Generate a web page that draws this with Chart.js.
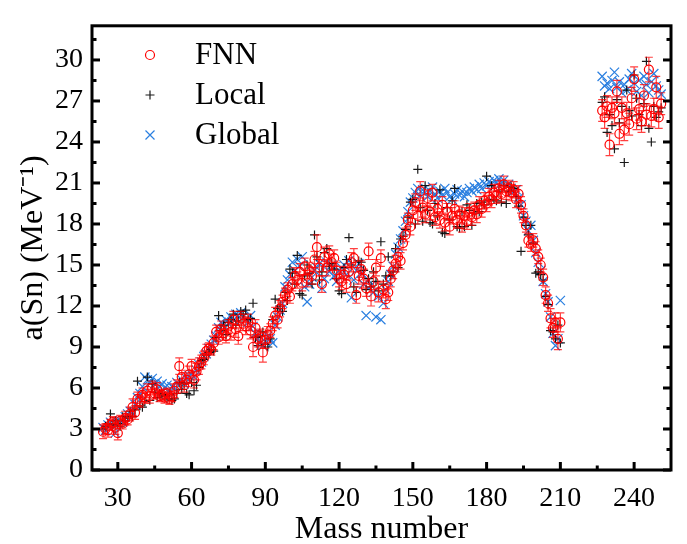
<!DOCTYPE html>
<html>
<head>
<meta charset="utf-8">
<script src="https://cdn.jsdelivr.net/npm/chart.js@4.4.0/dist/chart.umd.min.js"></script>
<style>
  html, body { margin: 0; padding: 0; background: #fff; }
  #wrap { width: 687px; height: 544px; }
</style>
</head>
<body>
<div id="wrap"><canvas id="grafico" width="687" height="544"></canvas></div>
<script>
// ======= DATA =======
const massNumbers = [
  24, 25, 26, 27, 28, 29, 30, 31, 32, 33,
  34, 35, 36, 37, 38, 39, 40, 41, 42, 43,
  44, 45, 46, 47, 48, 49, 50, 51, 52, 53,
  54, 55, 56, 57, 58, 59, 60, 61, 62, 63,
  64, 65, 66, 67, 68, 69, 70, 71, 72, 73,
  74, 75, 76, 77, 78, 79, 80, 81, 82, 83,
  84, 85, 86, 87, 88, 89, 90, 91, 92, 93,
  94, 95, 96, 97, 98, 99, 100, 101, 102, 103,
  104, 105, 106, 107, 108, 109, 110, 111, 112, 113,
  114, 115, 116, 117, 118, 119, 120, 121, 122, 123,
  124, 125, 126, 127, 128, 129, 130, 131, 132, 133,
  134, 135, 136, 137, 138, 139, 140, 141, 142, 143,
  144, 145, 146, 147, 148, 149, 150, 151, 152, 153,
  154, 155, 156, 157, 158, 159, 160, 161, 162, 163,
  164, 165, 166, 167, 168, 169, 170, 171, 172, 173,
  174, 175, 176, 177, 178, 179, 180, 181, 182, 183,
  184, 185, 186, 187, 188, 189, 190, 191, 192, 193,
  194, 195, 196, 197, 198, 199, 200, 201, 202, 203,
  204, 205, 206, 207, 208, 209, 210,
  227, 228, 229, 230, 231, 232, 233, 234, 235, 236,
  237, 238, 239, 240, 241, 242, 243, 244, 245, 246,
  247, 248, 249, 250, 251
];

const fnnValues = [
  2.8, 3.0, 2.9, 3.3, 3.5, 3.1, 2.7, 3.6, 3.4, 3.8,
  3.7, 4.1, 4.6, 4.2, 5.2, 5.0, 5.5, 5.3, 5.8, 5.4,
  6.0, 5.6, 5.9, 5.4, 5.5, 5.3, 5.6, 5.2, 5.4, 5.8,
  6.1, 7.6, 6.8, 6.2, 6.6, 7.0, 7.6, 6.6, 7.2, 7.6,
  7.9, 8.2, 8.7, 8.9, 8.8, 9.3, 10.1, 9.7, 10.3, 10.0,
  9.8, 10.5, 10.1, 11.0, 10.3, 9.8, 11.1, 10.7, 10.5, 10.8,
  10.2, 9.0, 10.4, 9.6, 9.7, 8.6, 9.5, 9.9, 10.2, 10.7,
  11.3, 11.0, 11.8, 12.3, 12.8, 13.2, 12.7, 13.6, 14.2, 13.9,
  14.5, 13.7, 14.9, 14.0, 14.6, 14.2, 15.4, 16.3, 14.8, 13.6,
  15.6, 14.8, 15.8, 15.2, 15.5, 14.6, 14.0, 13.8, 14.3, 13.6,
  14.5, 15.2, 15.5, 12.8, 14.2, 14.7, 14.0, 13.3, 16.0, 12.7,
  13.8, 14.8, 13.0, 15.5, 13.2, 12.5, 13.0, 14.0, 14.6, 15.1,
  15.6, 15.3, 16.6, 17.2, 18.3, 17.8, 19.0, 19.6, 18.6, 20.4,
  19.2, 18.7, 19.9, 18.9, 20.3, 18.5, 19.1, 18.3, 19.4, 18.1,
  18.9, 17.8, 18.6, 19.1, 18.3, 18.7, 18.0, 18.6, 18.2, 18.9,
  18.5, 19.0, 18.7, 19.4, 19.1, 19.7, 19.5, 20.0, 19.8, 20.3,
  20.1, 20.6, 20.2, 20.9, 20.4, 20.6, 20.3, 20.5, 19.8, 20.2,
  19.4, 18.6, 17.9, 16.8, 16.5, 16.8, 16.2, 15.6, 15.0, 14.1,
  12.8, 12.2, 11.1, 10.4, 10.8, 9.6, 10.8,
  26.3, 25.8, 26.6, 23.8, 26.5, 26.1, 27.7, 24.6, 26.5, 24.9,
  26.1, 25.3, 27.2, 28.6, 25.7, 26.4, 25.5, 27.4, 26.0, 29.3,
  25.9, 26.4, 28.0, 25.8, 26.8
];

const fnnErrors = [
  0.5, 0.4, 0.5, 0.4, 0.4, 0.5, 0.5, 0.4, 0.4, 0.5,
  0.4, 0.5, 0.6, 0.5, 0.5, 0.4, 0.5, 0.4, 0.5, 0.5,
  0.5, 0.4, 0.5, 0.4, 0.4, 0.4, 0.4, 0.4, 0.4, 0.5,
  0.5, 0.6, 0.5, 0.5, 0.5, 0.6, 0.5, 0.6, 0.6, 0.6,
  0.5, 0.5, 0.5, 0.4, 0.4, 0.5, 0.5, 0.5, 0.6, 0.5,
  0.5, 0.5, 0.6, 0.6, 0.6, 0.6, 0.5, 0.5, 0.6, 0.6,
  0.6, 0.7, 0.6, 0.6, 0.6, 0.7, 0.6, 0.6, 0.5, 0.5,
  0.6, 0.6, 0.6, 0.5, 0.5, 0.5, 0.5, 0.5, 0.6, 0.6,
  0.6, 0.6, 0.6, 0.6, 0.6, 0.6, 0.6, 0.9, 0.6, 0.6,
  0.7, 0.6, 0.6, 0.6, 0.6, 0.6, 0.6, 0.6, 0.6, 0.6,
  0.6, 0.7, 0.7, 0.6, 0.6, 0.6, 0.7, 0.6, 0.6, 0.7,
  0.6, 0.6, 0.7, 0.6, 0.6, 0.7, 0.6, 0.6, 0.6, 0.6,
  0.6, 0.6, 0.5, 0.5, 0.5, 0.6, 0.6, 0.6, 0.6, 0.7,
  0.7, 0.6, 0.6, 0.6, 0.6, 0.6, 0.6, 0.6, 0.6, 0.6,
  0.6, 0.6, 0.6, 0.6, 0.6, 0.6, 0.6, 0.6, 0.6, 0.6,
  0.6, 0.6, 0.6, 0.6, 0.6, 0.6, 0.6, 0.6, 0.6, 0.6,
  0.6, 0.6, 0.6, 0.6, 0.6, 0.6, 0.6, 0.6, 0.6, 0.6,
  0.6, 0.5, 0.5, 0.5, 0.5, 0.5, 0.5, 0.5, 0.5, 0.6,
  0.6, 0.6, 0.7, 0.7, 0.7, 0.8, 0.7,
  0.8, 0.8, 0.8, 0.8, 0.8, 0.8, 0.8, 0.8, 0.8, 0.8,
  0.8, 0.8, 0.8, 0.9, 0.8, 0.8, 0.8, 0.8, 0.8, 0.9,
  0.8, 0.8, 0.8, 0.8, 0.8
];

const localValues = [
  3.0, 3.2, 3.4, 4.1, 3.3, 3.6, 3.4, 3.2, 3.9, 3.6,
  3.8, 4.3, 3.9, 4.4, 6.5, 4.7, 4.6, 5.0, 6.8, 5.1,
  6.3, 5.7, 5.3, 5.6, 5.5, 5.4, 5.2, 5.5, 5.1, 5.2,
  5.6, 6.4, 5.9, 6.3, 5.6, 5.5, 6.4, 5.8, 6.2, 7.5,
  8.0, 8.1, 8.4, 8.6, 8.8, 8.7, 9.7, 11.3, 10.2, 10.6,
  9.9, 10.8, 11.0, 11.4, 10.6, 10.9, 11.6, 11.4, 11.7, 11.0,
  11.1, 12.2, 9.7, 9.1, 9.8, 10.1, 9.2, 9.0, 9.6, 11.0,
  12.5, 11.8, 12.0, 11.6, 13.0, 12.4, 14.7, 14.4, 13.6, 15.7,
  12.9, 12.8, 14.2, 15.0, 14.4, 13.6, 17.2, 15.6, 13.9, 14.5,
  15.9, 16.2, 14.9, 15.1, 14.7, 14.0, 13.1, 12.9, 14.8, 15.4,
  17.0, 15.0, 13.4, 13.0, 15.3, 15.2, 14.6, 13.2, 14.0, 13.4,
  14.5, 13.8, 13.1, 16.7, 13.6, 14.2, 15.6, 14.2, 14.5, 16.2,
  14.8, 16.9, 17.1, 17.6, 18.5, 19.6, 19.8, 18.0, 22.0, 19.2,
  18.2, 20.8, 19.0, 18.1, 18.0, 19.5, 18.6, 20.5, 17.4, 17.3,
  19.2, 18.3, 19.7, 20.6, 17.8, 17.7, 18.9, 17.8, 19.4, 19.0,
  17.9, 18.8, 19.5, 18.9, 19.6, 19.4, 21.5, 19.7, 20.8, 19.8,
  19.7, 20.4, 19.6, 20.8, 19.5, 20.4, 20.7, 20.6, 20.0, 19.3,
  16.0, 18.5, 17.9, 17.2, 17.9, 16.6, 14.4, 14.5, 14.3, 13.9,
  12.7, 12.1, 10.2, 10.1, 9.6, 10.6, 9.3,
  26.9, 27.3, 24.7, 26.0, 25.2, 23.5, 27.1, 25.4, 26.6, 22.5,
  27.8, 26.3, 25.9, 28.9, 27.2, 26.0, 25.2, 26.8, 29.9, 25.0,
  24.0, 26.6, 25.8, 26.2, 26.5
];

const globalValues = [
  3.1, 2.9, 3.3, 3.5, 3.2, 2.7, 3.4, 3.6, 3.5, 3.9,
  4.1, 4.3, 4.2, 4.8, 5.3, 5.6, 6.1, 6.8, 6.6, 6.4,
  6.7, 6.3, 6.5, 6.1, 6.3, 6.0, 6.2, 5.8, 6.1, 6.0,
  6.4, 6.2, 6.6, 6.3, 6.7, 6.9, 7.0, 6.8, 7.3, 7.7,
  7.9, 8.3, 8.5, 8.9, 9.2, 9.5, 9.8, 10.4, 10.8, 10.6,
  11.0, 10.7, 11.2, 11.0, 11.4, 11.3, 11.5, 11.2, 11.0, 10.8,
  11.3, 10.5, 10.0, 9.6, 9.3, 9.1, 9.4, 9.8, 9.6, 9.3,
  10.6, 11.2, 11.7, 12.2, 13.4, 13.9, 14.3, 15.2, 14.6, 15.4,
  14.9, 15.6, 13.4, 12.3, 13.6, 14.1, 14.6, 14.8, 15.1, 13.3,
  14.0, 15.2, 14.5, 15.0, 14.2, 13.8, 14.6, 14.8, 15.0, 14.3,
  15.3, 12.6, 13.9, 14.6, 15.1, 14.4, 13.6, 11.3, 13.9, 13.5,
  13.0, 11.2, 12.7, 11.0, 12.2, 13.2, 13.8, 14.3, 14.9, 15.8,
  16.3, 16.9, 17.5, 18.2, 18.9, 19.6, 19.9, 20.3, 20.6, 20.1,
  20.5, 20.3, 20.0, 20.4, 20.7, 20.2, 19.9, 20.4, 20.1, 20.6,
  20.3, 20.0, 19.8, 20.2, 20.5, 20.1, 20.4, 20.0, 20.3, 20.6,
  20.4, 20.7, 20.5, 20.9, 20.6, 21.0, 20.8, 21.1, 20.9, 21.2,
  21.0, 21.3, 21.0, 21.2, 20.8, 20.9, 20.6, 20.4, 20.5, 19.9,
  19.4, 18.6, 18.2, 17.5, 17.9, 16.8, 15.9, 15.2, 14.6, 13.8,
  12.9, 12.3, 11.2, 10.0, 9.1, 9.6, 12.4,
  28.8, 28.1, 28.3, 27.9, 28.5, 29.1, 28.0, 28.4, 27.6, 28.2,
  27.8, 28.6, 29.0, 28.3, 27.7, 28.5, 27.4, 28.8, 28.2, 27.6,
  28.4, 29.0, 28.1, 27.8, 27.5
];

const xTicks = [30, 60, 90, 120, 150, 180, 210, 240];
const yTicks = [0, 3, 6, 9, 12, 15, 18, 21, 24, 27, 30];
const seriesNames = ["FNN", "Local", "Global"];

// ======= STYLES =======
const RED = "#ff0000";
const BLACK = "rgba(0,0,0,0.9)";
const BLUE = "#2a7fe0";
const SERIF = "'Liberation Serif', 'Times New Roman', serif";

function pontos(values) {
  return massNumbers.map((m, i) => ({ x: m, y: values[i] }));
}

// ======= PLUGINS =======
const errorBars = {
  id: "errorBars",
  beforeDatasetDraw(chart, args) {
    if (args.index !== 0) return;
    const { ctx, scales: { x, y } } = chart;
    ctx.save();
    ctx.strokeStyle = "rgba(255,0,0,0.75)";
    ctx.lineWidth = 1.2;
    massNumbers.forEach((m, i) => {
      const px = x.getPixelForValue(m);
      const top = y.getPixelForValue(fnnValues[i] + fnnErrors[i]);
      const bot = y.getPixelForValue(fnnValues[i] - fnnErrors[i]);
      ctx.beginPath();
      ctx.moveTo(px, top);
      ctx.lineTo(px, bot);
      ctx.moveTo(px - 4, top);
      ctx.lineTo(px + 4, top);
      ctx.moveTo(px - 4, bot);
      ctx.lineTo(px + 4, bot);
      ctx.stroke();
    });
    ctx.restore();
  },
};

const frame = {
  id: "frame",
  afterDraw(chart) {
    const { ctx, chartArea: a, scales: { x, y } } = chart;
    ctx.save();
    ctx.strokeStyle = "#000";
    ctx.lineWidth = 3;
    const line = (x1, y1, x2, y2) => {
      ctx.beginPath();
      ctx.moveTo(x1, y1);
      ctx.lineTo(x2, y2);
      ctx.stroke();
    };
    // eixo x: maiores e menores
    xTicks.forEach((v) => {
      const px = x.getPixelForValue(v);
      line(px, a.bottom, px, a.bottom - 8);
      const mx = x.getPixelForValue(v + 15);
      if (v + 15 < x.max - 2) line(mx, a.bottom, mx, a.bottom - 4.5);
    });
    // eixo y (esquerda e direita)
    yTicks.forEach((v) => {
      const py = y.getPixelForValue(v);
      line(a.left, py, a.left + 8, py);
      line(a.right, py, a.right - 8, py);
      if (v + 1.5 < y.max) {
        const my = y.getPixelForValue(v + 1.5);
        line(a.left, my, a.left + 4.5, my);
        line(a.right, my, a.right - 4.5, my);
      }
    });
    ctx.strokeRect(a.left, a.top, a.right - a.left, a.bottom - a.top);
    ctx.restore();
  },
};

const legendBox = {
  id: "legendBox",
  afterDraw(chart) {
    const { ctx } = chart;
    const rows = [55, 95, 135];
    ctx.save();
    chart.data.datasets.forEach((ds, i) => {
      const cx = 150;
      const cy = rows[i];
      ctx.strokeStyle = ds.borderColor;
      ctx.lineWidth = 1.2;
      ctx.beginPath();
      if (i === 0) {
        ctx.arc(cx, cy, 4.5, 0, Math.PI * 2);
      } else if (i === 1) {
        ctx.moveTo(cx - 4.5, cy); ctx.lineTo(cx + 4.5, cy);
        ctx.moveTo(cx, cy - 4.5); ctx.lineTo(cx, cy + 4.5);
      } else {
        ctx.moveTo(cx - 4.5, cy - 4.5); ctx.lineTo(cx + 4.5, cy + 4.5);
        ctx.moveTo(cx - 4.5, cy + 4.5); ctx.lineTo(cx + 4.5, cy - 4.5);
      }
      ctx.stroke();
      ctx.fillStyle = "#000";
      ctx.font = "31px " + SERIF;
      ctx.textBaseline = "middle";
      ctx.fillText(seriesNames[i], 195, cy + 1);
    });
    ctx.restore();
  },
};

// ======= CHART =======
const ctx = document.getElementById("grafico").getContext("2d");

new Chart(ctx, {
  type: "scatter",
  data: {
    datasets: [
      {
        label: seriesNames[0],
        data: pontos(fnnValues),
        pointStyle: "circle",
        pointRadius: 4.5,
        borderColor: RED,
        backgroundColor: "rgba(0,0,0,0)",
        borderWidth: 1.2,
      },
      {
        label: seriesNames[1],
        data: pontos(localValues),
        pointStyle: "cross",
        pointRadius: 4.5,
        borderColor: BLACK,
        backgroundColor: BLACK,
        borderWidth: 1.2,
      },
      {
        label: seriesNames[2],
        data: pontos(globalValues),
        pointStyle: "crossRot",
        pointRadius: 6.5,
        borderColor: BLUE,
        backgroundColor: BLUE,
        borderWidth: 1.2,
      },
    ],
  },
  options: {
    responsive: false,
    animation: false,
    devicePixelRatio: 1,
    layout: { padding: { top: 11, right: 16, left: 0, bottom: 0 } },
    plugins: {
      legend: { display: false },
      tooltip: { enabled: false },
    },
    scales: {
      x: {
        type: "linear",
        min: 19.5,
        max: 255,
        grid: { display: false, drawTicks: false },
        border: { display: false },
        afterBuildTicks: (s) => { s.ticks = xTicks.map((v) => ({ value: v })); },
        afterFit: (s) => { s.height = 74; },
        ticks: {
          color: "#000",
          padding: 12,
          maxRotation: 0,
          font: { family: SERIF, size: 28 },
        },
        title: {
          display: true,
          text: "Mass number",
          color: "#000",
          padding: 0,
          font: { family: SERIF, size: 32, lineHeight: 0.875 },
        },
      },
      y: {
        type: "linear",
        min: 0,
        max: 32.5,
        grid: { display: false, drawTicks: false },
        border: { display: false },
        afterBuildTicks: (s) => { s.ticks = yTicks.map((v) => ({ value: v })); },
        afterFit: (s) => { s.width = 92; },
        ticks: {
          color: "#000",
          padding: 9,
          font: { family: SERIF, size: 28 },
        },
        title: {
          display: true,
          text: "a(Sn) (MeV⁻¹)",
          color: "#000",
          padding: { top: 14, bottom: 0 },
          font: { family: SERIF, size: 32, lineHeight: 1.2 },
        },
      },
    },
  },
  plugins: [errorBars, frame, legendBox],
});
</script>
</body>
</html>
